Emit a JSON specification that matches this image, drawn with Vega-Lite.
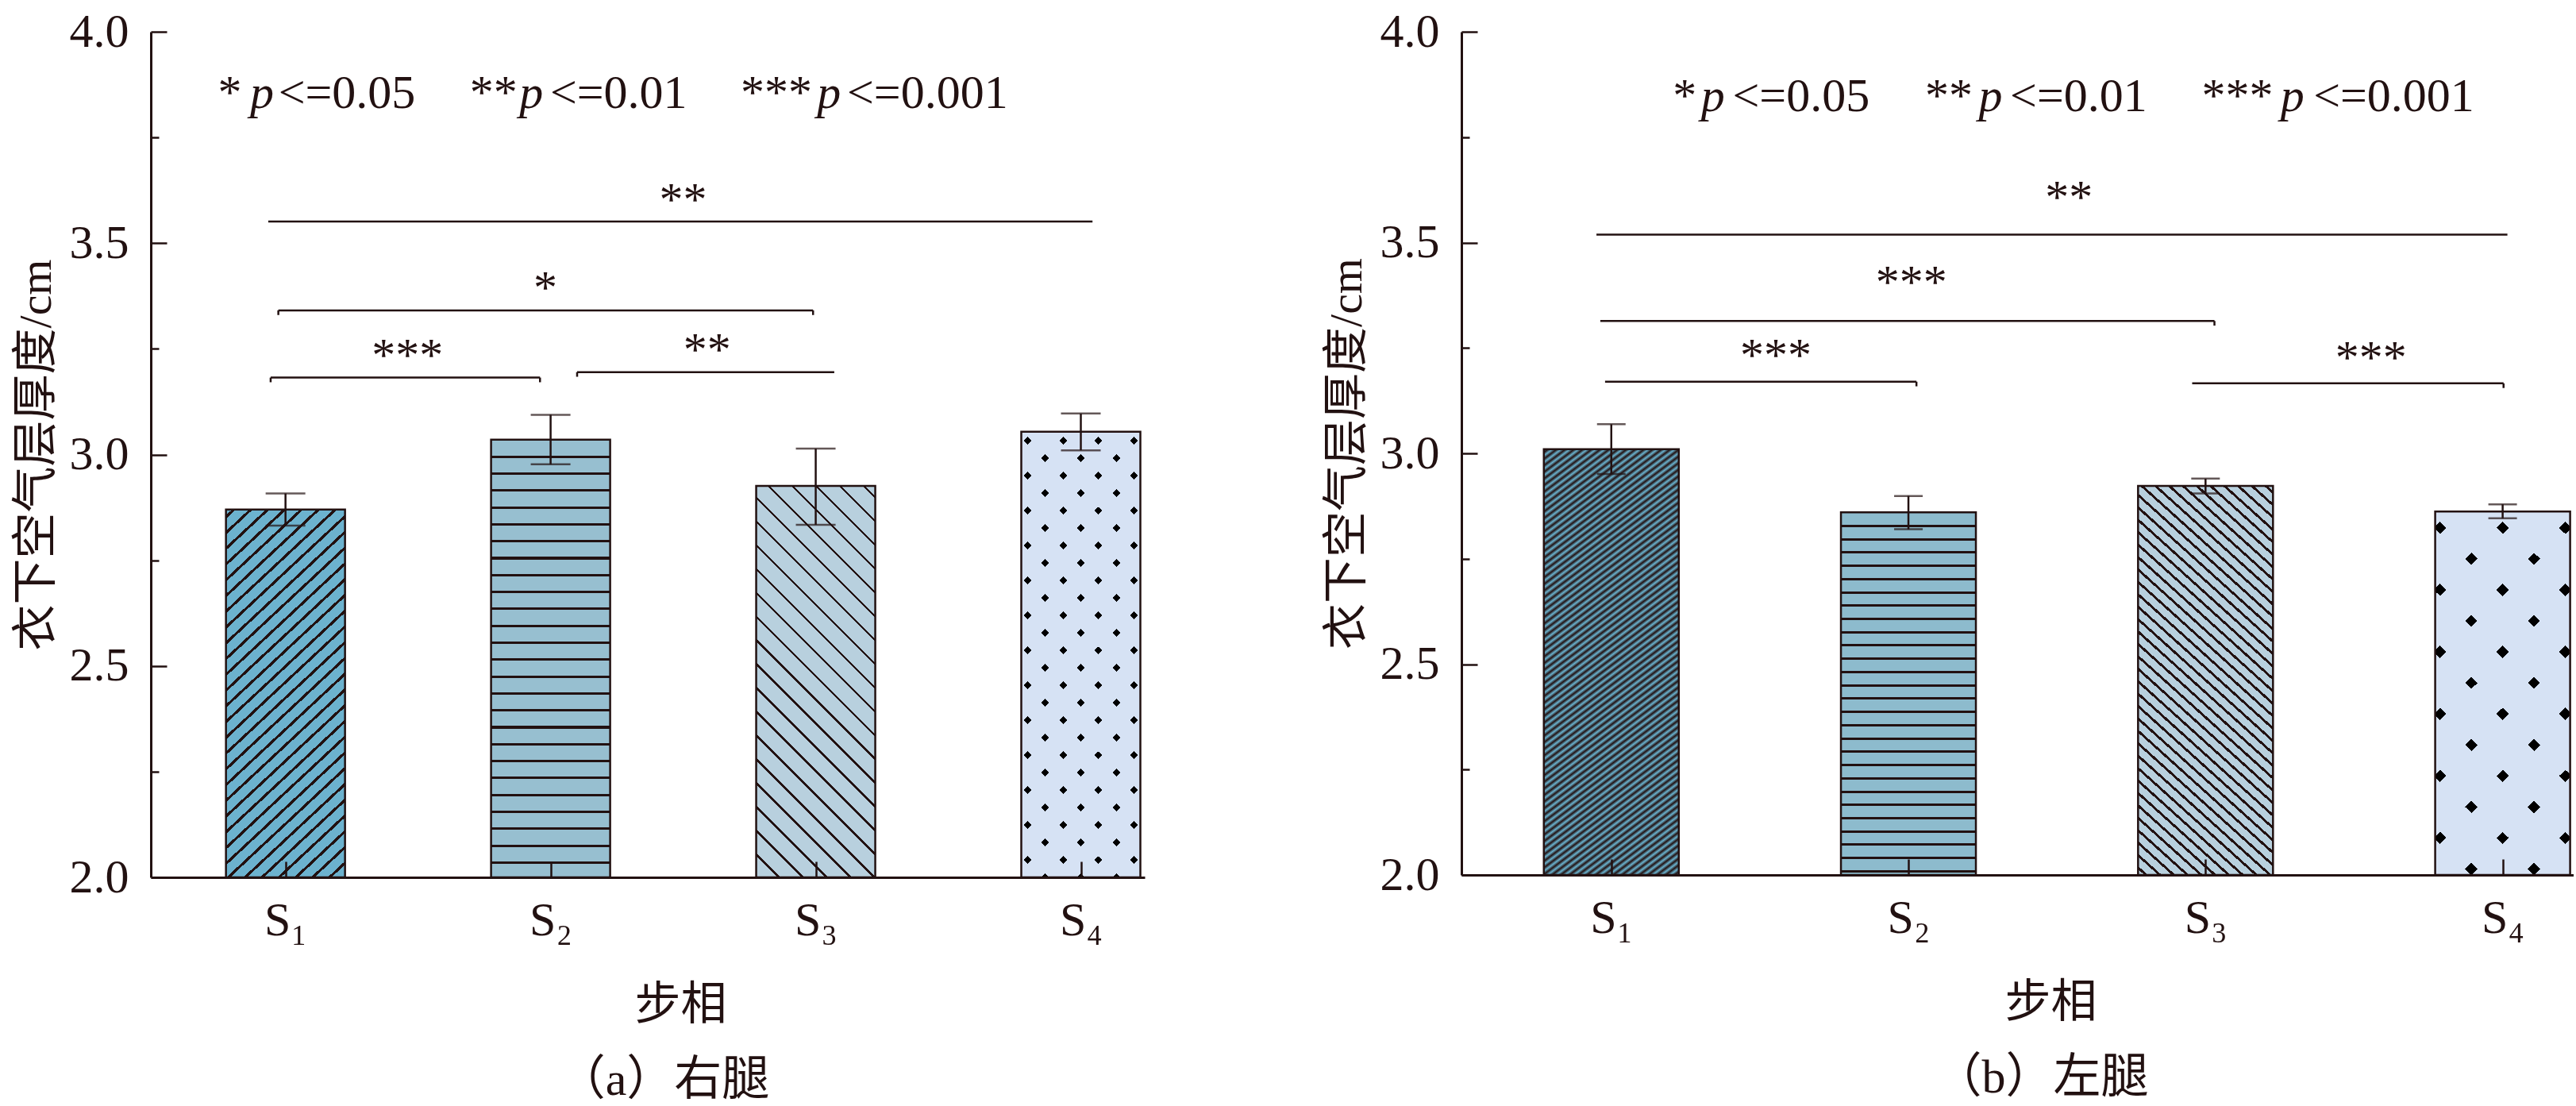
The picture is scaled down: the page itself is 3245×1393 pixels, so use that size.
{
  "$schema": "https://vega.github.io/schema/vega-lite/v6.json",
  "background": "white",
  "padding": {"left": 17, "top": 10, "right": 0, "bottom": 0},
  "spacing": 226,
  "datasets": {
    "bars_a": [
      {"phase": "S1", "pos": 1, "mean": 2.870, "lo": 2.832, "hi": 2.908},
      {"phase": "S2", "pos": 2, "mean": 3.035, "lo": 2.977, "hi": 3.094},
      {"phase": "S3", "pos": 3, "mean": 2.926, "lo": 2.834, "hi": 3.014},
      {"phase": "S4", "pos": 4, "mean": 3.054, "lo": 3.010, "hi": 3.097}
    ],
    "bars_b": [
      {"phase": "S1", "pos": 1, "mean": 3.010, "lo": 2.951, "hi": 3.069},
      {"phase": "S2", "pos": 2, "mean": 2.860, "lo": 2.820, "hi": 2.899},
      {"phase": "S3", "pos": 3, "mean": 2.923, "lo": 2.905, "hi": 2.940},
      {"phase": "S4", "pos": 4, "mean": 2.862, "lo": 2.846, "hi": 2.879}
    ],
    "brackets_a": [
      {"x": 0.935, "x2": 4.044, "y": 3.551},
      {"x": 0.973, "x2": 2.990, "y": 3.341},
      {"x": 0.944, "x2": 1.960, "y": 3.182},
      {"x": 2.100, "x2": 3.070, "y": 3.195}
    ],
    "ends_a": [
      {"x": 0.973, "y": 3.341, "y2": 3.330},
      {"x": 2.990, "y": 3.341, "y2": 3.330},
      {"x": 0.944, "y": 3.182, "y2": 3.171},
      {"x": 1.960, "y": 3.182, "y2": 3.171},
      {"x": 2.100, "y": 3.195, "y2": 3.184}
    ],
    "brackets_b": [
      {"x": 0.950, "x2": 4.016, "y": 3.519},
      {"x": 0.963, "x2": 3.030, "y": 3.314},
      {"x": 0.979, "x2": 2.027, "y": 3.170},
      {"x": 2.955, "x2": 4.003, "y": 3.166}
    ],
    "ends_b": [
      {"x": 3.030, "y": 3.314, "y2": 3.303},
      {"x": 2.027, "y": 3.170, "y2": 3.159},
      {"x": 4.003, "y": 3.166, "y2": 3.155}
    ],
    "stars_a": [
      {"x": 2.50, "y": 3.567, "label": "**"},
      {"x": 1.98, "y": 3.358, "label": "*"},
      {"x": 1.46, "y": 3.198, "label": "***"},
      {"x": 2.59, "y": 3.211, "label": "**"}
    ],
    "stars_b": [
      {"x": 2.54, "y": 3.571, "label": "**"},
      {"x": 2.01, "y": 3.369, "label": "***"},
      {"x": 1.554, "y": 3.196, "label": "***"},
      {"x": 3.557, "y": 3.191, "label": "***"}
    ],
    "key_a": [
      {"x": 0.745, "y": 3.820, "label": "*", "italic": false},
      {"x": 0.866, "y": 3.820, "label": "p", "italic": true},
      {"x": 0.973, "y": 3.820, "label": "<=0.05", "italic": false},
      {"x": 1.695, "y": 3.820, "label": "**", "italic": false},
      {"x": 1.882, "y": 3.820, "label": "p", "italic": true},
      {"x": 1.998, "y": 3.820, "label": "<=0.01", "italic": false},
      {"x": 2.717, "y": 3.820, "label": "***", "italic": false},
      {"x": 3.005, "y": 3.820, "label": "p", "italic": true},
      {"x": 3.118, "y": 3.820, "label": "<=0.001", "italic": false}
    ],
    "key_b": [
      {"x": 1.207, "y": 3.812, "label": "*", "italic": false},
      {"x": 1.302, "y": 3.812, "label": "p", "italic": true},
      {"x": 1.408, "y": 3.812, "label": "<=0.05", "italic": false},
      {"x": 2.056, "y": 3.812, "label": "**", "italic": false},
      {"x": 2.236, "y": 3.812, "label": "p", "italic": true},
      {"x": 2.342, "y": 3.812, "label": "<=0.01", "italic": false},
      {"x": 2.987, "y": 3.812, "label": "***", "italic": false},
      {"x": 3.252, "y": 3.812, "label": "p", "italic": true},
      {"x": 3.363, "y": 3.812, "label": "<=0.001", "italic": false}
    ]
  },
  "hconcat": [
    {
      "width": 1252,
      "height": 1065,
      "title": {"text": "（a）右腿", "orient": "bottom", "anchor": "middle", "dx": 20, "offset": 37},
      "data": {"name": "bars_a"},
      "layer": [
        {
          "transform": [{"filter": "datum.phase == 'S1'"}],
          "mark": {"type": "bar", "width": 150, "stroke": "#211", "strokeWidth": 2.5,
            "fill": {"gradient": "linear", "x1": 0, "y1": 0, "x2": 0.3603, "y2": 1.1932, "stops": [
              {"offset": 0, "color": "#6cb2ce"},
              {"offset": 0.012, "color": "#6cb2ce"}, {"offset": 0.012, "color": "#211"}, {"offset": 0.0195, "color": "#211"}, {"offset": 0.0195, "color": "#6cb2ce"},
              {"offset": 0.0449, "color": "#6cb2ce"}, {"offset": 0.0449, "color": "#211"}, {"offset": 0.0524, "color": "#211"}, {"offset": 0.0524, "color": "#6cb2ce"},
              {"offset": 0.0778, "color": "#6cb2ce"}, {"offset": 0.0778, "color": "#211"}, {"offset": 0.0853, "color": "#211"}, {"offset": 0.0853, "color": "#6cb2ce"},
              {"offset": 0.1107, "color": "#6cb2ce"}, {"offset": 0.1107, "color": "#211"}, {"offset": 0.1182, "color": "#211"}, {"offset": 0.1182, "color": "#6cb2ce"},
              {"offset": 0.1436, "color": "#6cb2ce"}, {"offset": 0.1436, "color": "#211"}, {"offset": 0.1511, "color": "#211"}, {"offset": 0.1511, "color": "#6cb2ce"},
              {"offset": 0.1765, "color": "#6cb2ce"}, {"offset": 0.1765, "color": "#211"}, {"offset": 0.184, "color": "#211"}, {"offset": 0.184, "color": "#6cb2ce"},
              {"offset": 0.2094, "color": "#6cb2ce"}, {"offset": 0.2094, "color": "#211"}, {"offset": 0.2169, "color": "#211"}, {"offset": 0.2169, "color": "#6cb2ce"},
              {"offset": 0.2423, "color": "#6cb2ce"}, {"offset": 0.2423, "color": "#211"}, {"offset": 0.2498, "color": "#211"}, {"offset": 0.2498, "color": "#6cb2ce"},
              {"offset": 0.2752, "color": "#6cb2ce"}, {"offset": 0.2752, "color": "#211"}, {"offset": 0.2827, "color": "#211"}, {"offset": 0.2827, "color": "#6cb2ce"},
              {"offset": 0.3081, "color": "#6cb2ce"}, {"offset": 0.3081, "color": "#211"}, {"offset": 0.3156, "color": "#211"}, {"offset": 0.3156, "color": "#6cb2ce"},
              {"offset": 0.341, "color": "#6cb2ce"}, {"offset": 0.341, "color": "#211"}, {"offset": 0.3485, "color": "#211"}, {"offset": 0.3485, "color": "#6cb2ce"},
              {"offset": 0.3739, "color": "#6cb2ce"}, {"offset": 0.3739, "color": "#211"}, {"offset": 0.3814, "color": "#211"}, {"offset": 0.3814, "color": "#6cb2ce"},
              {"offset": 0.4068, "color": "#6cb2ce"}, {"offset": 0.4068, "color": "#211"}, {"offset": 0.4143, "color": "#211"}, {"offset": 0.4143, "color": "#6cb2ce"},
              {"offset": 0.4397, "color": "#6cb2ce"}, {"offset": 0.4397, "color": "#211"}, {"offset": 0.4472, "color": "#211"}, {"offset": 0.4472, "color": "#6cb2ce"},
              {"offset": 0.4726, "color": "#6cb2ce"}, {"offset": 0.4726, "color": "#211"}, {"offset": 0.4801, "color": "#211"}, {"offset": 0.4801, "color": "#6cb2ce"},
              {"offset": 0.5055, "color": "#6cb2ce"}, {"offset": 0.5055, "color": "#211"}, {"offset": 0.513, "color": "#211"}, {"offset": 0.513, "color": "#6cb2ce"},
              {"offset": 0.5384, "color": "#6cb2ce"}, {"offset": 0.5384, "color": "#211"}, {"offset": 0.5459, "color": "#211"}, {"offset": 0.5459, "color": "#6cb2ce"},
              {"offset": 0.5713, "color": "#6cb2ce"}, {"offset": 0.5713, "color": "#211"}, {"offset": 0.5788, "color": "#211"}, {"offset": 0.5788, "color": "#6cb2ce"},
              {"offset": 0.6042, "color": "#6cb2ce"}, {"offset": 0.6042, "color": "#211"}, {"offset": 0.6117, "color": "#211"}, {"offset": 0.6117, "color": "#6cb2ce"},
              {"offset": 0.6371, "color": "#6cb2ce"}, {"offset": 0.6371, "color": "#211"}, {"offset": 0.6446, "color": "#211"}, {"offset": 0.6446, "color": "#6cb2ce"},
              {"offset": 0.67, "color": "#6cb2ce"}, {"offset": 0.67, "color": "#211"}, {"offset": 0.6775, "color": "#211"}, {"offset": 0.6775, "color": "#6cb2ce"},
              {"offset": 0.7029, "color": "#6cb2ce"}, {"offset": 0.7029, "color": "#211"}, {"offset": 0.7104, "color": "#211"}, {"offset": 0.7104, "color": "#6cb2ce"},
              {"offset": 0.7358, "color": "#6cb2ce"}, {"offset": 0.7358, "color": "#211"}, {"offset": 0.7433, "color": "#211"}, {"offset": 0.7433, "color": "#6cb2ce"},
              {"offset": 0.7687, "color": "#6cb2ce"}, {"offset": 0.7687, "color": "#211"}, {"offset": 0.7762, "color": "#211"}, {"offset": 0.7762, "color": "#6cb2ce"},
              {"offset": 0.8016, "color": "#6cb2ce"}, {"offset": 0.8016, "color": "#211"}, {"offset": 0.8091, "color": "#211"}, {"offset": 0.8091, "color": "#6cb2ce"},
              {"offset": 0.8345, "color": "#6cb2ce"}, {"offset": 0.8345, "color": "#211"}, {"offset": 0.842, "color": "#211"}, {"offset": 0.842, "color": "#6cb2ce"},
              {"offset": 0.8674, "color": "#6cb2ce"}, {"offset": 0.8674, "color": "#211"}, {"offset": 0.8749, "color": "#211"}, {"offset": 0.8749, "color": "#6cb2ce"},
              {"offset": 0.9003, "color": "#6cb2ce"}, {"offset": 0.9003, "color": "#211"}, {"offset": 0.9078, "color": "#211"}, {"offset": 0.9078, "color": "#6cb2ce"},
              {"offset": 0.9332, "color": "#6cb2ce"}, {"offset": 0.9332, "color": "#211"}, {"offset": 0.9407, "color": "#211"}, {"offset": 0.9407, "color": "#6cb2ce"},
              {"offset": 0.9661, "color": "#6cb2ce"}, {"offset": 0.9661, "color": "#211"}, {"offset": 0.9736, "color": "#211"}, {"offset": 0.9736, "color": "#6cb2ce"},
              {"offset": 1, "color": "#6cb2ce"}
            ]}},
          "encoding": {
            "x": {"field": "pos", "type": "quantitative", "title": "步相", "scale": {"domain": [0.507, 4.226], "nice": false, "zero": false},
              "axis": {"values": [1, 2, 3, 4], "labelExpr": "'S' + ['₁','₂','₃','₄'][datum.value - 1]", "tickSize": -20, "labelPadding": 45, "titlePadding": 48, "titleX": 667, "zindex": 1}},
            "y": {"field": "mean", "type": "quantitative", "title": "衣下空气层厚度/cm", "scale": {"domain": [2, 4], "nice": false, "zero": false},
              "axis": {"values": [2, 2.25, 2.5, 2.75, 3, 3.25, 3.5, 3.75, 4], "labelExpr": "datum.value * 4 % 2 == 0 ? format(datum.value, '.1f') : ''",
                "tickSize": {"condition": {"test": "datum.value * 4 % 2 == 0", "value": -20}, "value": -10}, "labelPadding": 48, "titlePadding": 12, "zindex": 1}},
            "y2": {"datum": 2}
          }
        },
        {
          "transform": [{"filter": "datum.phase == 'S2'"}],
          "mark": {"type": "bar", "width": 150, "stroke": "#211", "strokeWidth": 2.5,
            "fill": {"gradient": "linear", "x1": 0, "y1": 0, "x2": 0, "y2": 1, "stops": [
              {"offset": 0, "color": "#97bfd0"},
              {"offset": 0.0359, "color": "#97bfd0"}, {"offset": 0.0359, "color": "#211"}, {"offset": 0.0415, "color": "#211"}, {"offset": 0.0415, "color": "#97bfd0"},
              {"offset": 0.0746, "color": "#97bfd0"}, {"offset": 0.0746, "color": "#211"}, {"offset": 0.0802, "color": "#211"}, {"offset": 0.0802, "color": "#97bfd0"},
              {"offset": 0.1132, "color": "#97bfd0"}, {"offset": 0.1132, "color": "#211"}, {"offset": 0.1188, "color": "#211"}, {"offset": 0.1188, "color": "#97bfd0"},
              {"offset": 0.1519, "color": "#97bfd0"}, {"offset": 0.1519, "color": "#211"}, {"offset": 0.1575, "color": "#211"}, {"offset": 0.1575, "color": "#97bfd0"},
              {"offset": 0.1905, "color": "#97bfd0"}, {"offset": 0.1905, "color": "#211"}, {"offset": 0.1961, "color": "#211"}, {"offset": 0.1961, "color": "#97bfd0"},
              {"offset": 0.2292, "color": "#97bfd0"}, {"offset": 0.2292, "color": "#211"}, {"offset": 0.2348, "color": "#211"}, {"offset": 0.2348, "color": "#97bfd0"},
              {"offset": 0.2678, "color": "#97bfd0"}, {"offset": 0.2678, "color": "#211"}, {"offset": 0.2734, "color": "#211"}, {"offset": 0.2734, "color": "#97bfd0"},
              {"offset": 0.3065, "color": "#97bfd0"}, {"offset": 0.3065, "color": "#211"}, {"offset": 0.3121, "color": "#211"}, {"offset": 0.3121, "color": "#97bfd0"},
              {"offset": 0.3451, "color": "#97bfd0"}, {"offset": 0.3451, "color": "#211"}, {"offset": 0.3507, "color": "#211"}, {"offset": 0.3507, "color": "#97bfd0"},
              {"offset": 0.3838, "color": "#97bfd0"}, {"offset": 0.3838, "color": "#211"}, {"offset": 0.3894, "color": "#211"}, {"offset": 0.3894, "color": "#97bfd0"},
              {"offset": 0.4224, "color": "#97bfd0"}, {"offset": 0.4224, "color": "#211"}, {"offset": 0.428, "color": "#211"}, {"offset": 0.428, "color": "#97bfd0"},
              {"offset": 0.4611, "color": "#97bfd0"}, {"offset": 0.4611, "color": "#211"}, {"offset": 0.4667, "color": "#211"}, {"offset": 0.4667, "color": "#97bfd0"},
              {"offset": 0.4997, "color": "#97bfd0"}, {"offset": 0.4997, "color": "#211"}, {"offset": 0.5053, "color": "#211"}, {"offset": 0.5053, "color": "#97bfd0"},
              {"offset": 0.5384, "color": "#97bfd0"}, {"offset": 0.5384, "color": "#211"}, {"offset": 0.544, "color": "#211"}, {"offset": 0.544, "color": "#97bfd0"},
              {"offset": 0.577, "color": "#97bfd0"}, {"offset": 0.577, "color": "#211"}, {"offset": 0.5826, "color": "#211"}, {"offset": 0.5826, "color": "#97bfd0"},
              {"offset": 0.6157, "color": "#97bfd0"}, {"offset": 0.6157, "color": "#211"}, {"offset": 0.6213, "color": "#211"}, {"offset": 0.6213, "color": "#97bfd0"},
              {"offset": 0.6543, "color": "#97bfd0"}, {"offset": 0.6543, "color": "#211"}, {"offset": 0.6599, "color": "#211"}, {"offset": 0.6599, "color": "#97bfd0"},
              {"offset": 0.693, "color": "#97bfd0"}, {"offset": 0.693, "color": "#211"}, {"offset": 0.6986, "color": "#211"}, {"offset": 0.6986, "color": "#97bfd0"},
              {"offset": 0.7316, "color": "#97bfd0"}, {"offset": 0.7316, "color": "#211"}, {"offset": 0.7372, "color": "#211"}, {"offset": 0.7372, "color": "#97bfd0"},
              {"offset": 0.7703, "color": "#97bfd0"}, {"offset": 0.7703, "color": "#211"}, {"offset": 0.7759, "color": "#211"}, {"offset": 0.7759, "color": "#97bfd0"},
              {"offset": 0.8089, "color": "#97bfd0"}, {"offset": 0.8089, "color": "#211"}, {"offset": 0.8145, "color": "#211"}, {"offset": 0.8145, "color": "#97bfd0"},
              {"offset": 0.8476, "color": "#97bfd0"}, {"offset": 0.8476, "color": "#211"}, {"offset": 0.8532, "color": "#211"}, {"offset": 0.8532, "color": "#97bfd0"},
              {"offset": 0.8862, "color": "#97bfd0"}, {"offset": 0.8862, "color": "#211"}, {"offset": 0.8918, "color": "#211"}, {"offset": 0.8918, "color": "#97bfd0"},
              {"offset": 0.9249, "color": "#97bfd0"}, {"offset": 0.9249, "color": "#211"}, {"offset": 0.9305, "color": "#211"}, {"offset": 0.9305, "color": "#97bfd0"},
              {"offset": 0.9635, "color": "#97bfd0"}, {"offset": 0.9635, "color": "#211"}, {"offset": 0.9691, "color": "#211"}, {"offset": 0.9691, "color": "#97bfd0"},
              {"offset": 1, "color": "#97bfd0"}
            ]}},
          "encoding": {"x": {"field": "pos", "type": "quantitative", "title": "步相"}, "y": {"field": "mean", "type": "quantitative", "title": "衣下空气层厚度/cm"}, "y2": {"datum": 2}}
        },
        {
          "transform": [{"filter": "datum.phase == 'S3'"}],
          "mark": {"type": "bar", "width": 150, "stroke": "#211", "strokeWidth": 2.5,
            "fill": {"gradient": "linear", "x1": 1, "y1": 0, "x2": 0.6369, "y2": 1.1937, "stops": [
              {"offset": 0, "color": "#b8d0de"},
              {"offset": 0.02, "color": "#b8d0de"}, {"offset": 0.02, "color": "#211"}, {"offset": 0.0251, "color": "#211"}, {"offset": 0.0251, "color": "#b8d0de"},
              {"offset": 0.0666, "color": "#b8d0de"}, {"offset": 0.0666, "color": "#211"}, {"offset": 0.0717, "color": "#211"}, {"offset": 0.0717, "color": "#b8d0de"},
              {"offset": 0.1132, "color": "#b8d0de"}, {"offset": 0.1132, "color": "#211"}, {"offset": 0.1183, "color": "#211"}, {"offset": 0.1183, "color": "#b8d0de"},
              {"offset": 0.1599, "color": "#b8d0de"}, {"offset": 0.1599, "color": "#211"}, {"offset": 0.165, "color": "#211"}, {"offset": 0.165, "color": "#b8d0de"},
              {"offset": 0.2065, "color": "#b8d0de"}, {"offset": 0.2065, "color": "#211"}, {"offset": 0.2116, "color": "#211"}, {"offset": 0.2116, "color": "#b8d0de"},
              {"offset": 0.2531, "color": "#b8d0de"}, {"offset": 0.2531, "color": "#211"}, {"offset": 0.2582, "color": "#211"}, {"offset": 0.2582, "color": "#b8d0de"},
              {"offset": 0.2997, "color": "#b8d0de"}, {"offset": 0.2997, "color": "#211"}, {"offset": 0.3048, "color": "#211"}, {"offset": 0.3048, "color": "#b8d0de"},
              {"offset": 0.3463, "color": "#b8d0de"}, {"offset": 0.3463, "color": "#211"}, {"offset": 0.3514, "color": "#211"}, {"offset": 0.3514, "color": "#b8d0de"},
              {"offset": 0.393, "color": "#b8d0de"}, {"offset": 0.393, "color": "#211"}, {"offset": 0.3981, "color": "#211"}, {"offset": 0.3981, "color": "#b8d0de"},
              {"offset": 0.4396, "color": "#b8d0de"}, {"offset": 0.4396, "color": "#211"}, {"offset": 0.4447, "color": "#211"}, {"offset": 0.4447, "color": "#b8d0de"},
              {"offset": 0.4862, "color": "#b8d0de"}, {"offset": 0.4862, "color": "#211"}, {"offset": 0.4913, "color": "#211"}, {"offset": 0.4913, "color": "#b8d0de"},
              {"offset": 0.5328, "color": "#b8d0de"}, {"offset": 0.5328, "color": "#211"}, {"offset": 0.5379, "color": "#211"}, {"offset": 0.5379, "color": "#b8d0de"},
              {"offset": 0.5794, "color": "#b8d0de"}, {"offset": 0.5794, "color": "#211"}, {"offset": 0.5845, "color": "#211"}, {"offset": 0.5845, "color": "#b8d0de"},
              {"offset": 0.6261, "color": "#b8d0de"}, {"offset": 0.6261, "color": "#211"}, {"offset": 0.6312, "color": "#211"}, {"offset": 0.6312, "color": "#b8d0de"},
              {"offset": 0.6727, "color": "#b8d0de"}, {"offset": 0.6727, "color": "#211"}, {"offset": 0.6778, "color": "#211"}, {"offset": 0.6778, "color": "#b8d0de"},
              {"offset": 0.7193, "color": "#b8d0de"}, {"offset": 0.7193, "color": "#211"}, {"offset": 0.7244, "color": "#211"}, {"offset": 0.7244, "color": "#b8d0de"},
              {"offset": 0.7659, "color": "#b8d0de"}, {"offset": 0.7659, "color": "#211"}, {"offset": 0.771, "color": "#211"}, {"offset": 0.771, "color": "#b8d0de"},
              {"offset": 0.8125, "color": "#b8d0de"}, {"offset": 0.8125, "color": "#211"}, {"offset": 0.8176, "color": "#211"}, {"offset": 0.8176, "color": "#b8d0de"},
              {"offset": 0.8592, "color": "#b8d0de"}, {"offset": 0.8592, "color": "#211"}, {"offset": 0.8643, "color": "#211"}, {"offset": 0.8643, "color": "#b8d0de"},
              {"offset": 0.9058, "color": "#b8d0de"}, {"offset": 0.9058, "color": "#211"}, {"offset": 0.9109, "color": "#211"}, {"offset": 0.9109, "color": "#b8d0de"},
              {"offset": 0.9524, "color": "#b8d0de"}, {"offset": 0.9524, "color": "#211"}, {"offset": 0.9575, "color": "#211"}, {"offset": 0.9575, "color": "#b8d0de"},
              {"offset": 1, "color": "#b8d0de"}
            ]}},
          "encoding": {"x": {"field": "pos", "type": "quantitative", "title": "步相"}, "y": {"field": "mean", "type": "quantitative", "title": "衣下空气层厚度/cm"}, "y2": {"datum": 2}}
        },
        {
          "transform": [{"filter": "datum.phase == 'S4'"}],
          "mark": {"type": "bar", "width": 150, "fill": "#d6e2f4"},
          "encoding": {"x": {"field": "pos", "type": "quantitative", "title": "步相"}, "y": {"field": "mean", "type": "quantitative", "title": "衣下空气层厚度/cm"}, "y2": {"datum": 2}}
        },
        {
          "transform": [{"filter": "datum.phase == 'S4'"}],
          "mark": {"type": "bar", "width": 150,
            "fill": {"gradient": "linear", "x1": 0, "y1": 0, "x2": 0.3107, "y2": 1.1813, "stops": [
              {"offset": 0, "color": "rgba(0,0,0,0)"},
              {"offset": 0.02, "color": "rgba(0,0,0,0)"}, {"offset": 0.02, "color": "#000"}, {"offset": 0.0339, "color": "#000"}, {"offset": 0.0339, "color": "rgba(0,0,0,0)"},
              {"offset": 0.0821, "color": "rgba(0,0,0,0)"}, {"offset": 0.0821, "color": "#000"}, {"offset": 0.096, "color": "#000"}, {"offset": 0.096, "color": "rgba(0,0,0,0)"},
              {"offset": 0.1441, "color": "rgba(0,0,0,0)"}, {"offset": 0.1441, "color": "#000"}, {"offset": 0.158, "color": "#000"}, {"offset": 0.158, "color": "rgba(0,0,0,0)"},
              {"offset": 0.2062, "color": "rgba(0,0,0,0)"}, {"offset": 0.2062, "color": "#000"}, {"offset": 0.2201, "color": "#000"}, {"offset": 0.2201, "color": "rgba(0,0,0,0)"},
              {"offset": 0.2683, "color": "rgba(0,0,0,0)"}, {"offset": 0.2683, "color": "#000"}, {"offset": 0.2822, "color": "#000"}, {"offset": 0.2822, "color": "rgba(0,0,0,0)"},
              {"offset": 0.3303, "color": "rgba(0,0,0,0)"}, {"offset": 0.3303, "color": "#000"}, {"offset": 0.3442, "color": "#000"}, {"offset": 0.3442, "color": "rgba(0,0,0,0)"},
              {"offset": 0.3924, "color": "rgba(0,0,0,0)"}, {"offset": 0.3924, "color": "#000"}, {"offset": 0.4063, "color": "#000"}, {"offset": 0.4063, "color": "rgba(0,0,0,0)"},
              {"offset": 0.4545, "color": "rgba(0,0,0,0)"}, {"offset": 0.4545, "color": "#000"}, {"offset": 0.4684, "color": "#000"}, {"offset": 0.4684, "color": "rgba(0,0,0,0)"},
              {"offset": 0.5166, "color": "rgba(0,0,0,0)"}, {"offset": 0.5166, "color": "#000"}, {"offset": 0.5305, "color": "#000"}, {"offset": 0.5305, "color": "rgba(0,0,0,0)"},
              {"offset": 0.5786, "color": "rgba(0,0,0,0)"}, {"offset": 0.5786, "color": "#000"}, {"offset": 0.5925, "color": "#000"}, {"offset": 0.5925, "color": "rgba(0,0,0,0)"},
              {"offset": 0.6407, "color": "rgba(0,0,0,0)"}, {"offset": 0.6407, "color": "#000"}, {"offset": 0.6546, "color": "#000"}, {"offset": 0.6546, "color": "rgba(0,0,0,0)"},
              {"offset": 0.7028, "color": "rgba(0,0,0,0)"}, {"offset": 0.7028, "color": "#000"}, {"offset": 0.7167, "color": "#000"}, {"offset": 0.7167, "color": "rgba(0,0,0,0)"},
              {"offset": 0.7648, "color": "rgba(0,0,0,0)"}, {"offset": 0.7648, "color": "#000"}, {"offset": 0.7787, "color": "#000"}, {"offset": 0.7787, "color": "rgba(0,0,0,0)"},
              {"offset": 0.8269, "color": "rgba(0,0,0,0)"}, {"offset": 0.8269, "color": "#000"}, {"offset": 0.8408, "color": "#000"}, {"offset": 0.8408, "color": "rgba(0,0,0,0)"},
              {"offset": 0.889, "color": "rgba(0,0,0,0)"}, {"offset": 0.889, "color": "#000"}, {"offset": 0.9029, "color": "#000"}, {"offset": 0.9029, "color": "rgba(0,0,0,0)"},
              {"offset": 0.9511, "color": "rgba(0,0,0,0)"}, {"offset": 0.9511, "color": "#000"}, {"offset": 0.965, "color": "#000"}, {"offset": 0.965, "color": "rgba(0,0,0,0)"},
              {"offset": 1, "color": "rgba(0,0,0,0)"}
            ]}},
          "encoding": {"x": {"field": "pos", "type": "quantitative", "title": "步相"}, "y": {"field": "mean", "type": "quantitative", "title": "衣下空气层厚度/cm"}, "y2": {"datum": 2}}
        },
        {
          "transform": [{"filter": "datum.phase == 'S4'"}],
          "mark": {"type": "bar", "width": 150, "stroke": "#211", "strokeWidth": 2.5,
            "fill": {"gradient": "linear", "x1": 1, "y1": 0, "x2": 0.6893, "y2": 1.1813, "stops": [
              {"offset": 0, "color": "#d6e2f4"},
              {"offset": 0.02, "color": "#d6e2f4"}, {"offset": 0.02, "color": "rgba(0,0,0,0)"}, {"offset": 0.0339, "color": "rgba(0,0,0,0)"}, {"offset": 0.0339, "color": "#d6e2f4"},
              {"offset": 0.0821, "color": "#d6e2f4"}, {"offset": 0.0821, "color": "rgba(0,0,0,0)"}, {"offset": 0.096, "color": "rgba(0,0,0,0)"}, {"offset": 0.096, "color": "#d6e2f4"},
              {"offset": 0.1441, "color": "#d6e2f4"}, {"offset": 0.1441, "color": "rgba(0,0,0,0)"}, {"offset": 0.158, "color": "rgba(0,0,0,0)"}, {"offset": 0.158, "color": "#d6e2f4"},
              {"offset": 0.2062, "color": "#d6e2f4"}, {"offset": 0.2062, "color": "rgba(0,0,0,0)"}, {"offset": 0.2201, "color": "rgba(0,0,0,0)"}, {"offset": 0.2201, "color": "#d6e2f4"},
              {"offset": 0.2683, "color": "#d6e2f4"}, {"offset": 0.2683, "color": "rgba(0,0,0,0)"}, {"offset": 0.2822, "color": "rgba(0,0,0,0)"}, {"offset": 0.2822, "color": "#d6e2f4"},
              {"offset": 0.3303, "color": "#d6e2f4"}, {"offset": 0.3303, "color": "rgba(0,0,0,0)"}, {"offset": 0.3442, "color": "rgba(0,0,0,0)"}, {"offset": 0.3442, "color": "#d6e2f4"},
              {"offset": 0.3924, "color": "#d6e2f4"}, {"offset": 0.3924, "color": "rgba(0,0,0,0)"}, {"offset": 0.4063, "color": "rgba(0,0,0,0)"}, {"offset": 0.4063, "color": "#d6e2f4"},
              {"offset": 0.4545, "color": "#d6e2f4"}, {"offset": 0.4545, "color": "rgba(0,0,0,0)"}, {"offset": 0.4684, "color": "rgba(0,0,0,0)"}, {"offset": 0.4684, "color": "#d6e2f4"},
              {"offset": 0.5166, "color": "#d6e2f4"}, {"offset": 0.5166, "color": "rgba(0,0,0,0)"}, {"offset": 0.5305, "color": "rgba(0,0,0,0)"}, {"offset": 0.5305, "color": "#d6e2f4"},
              {"offset": 0.5786, "color": "#d6e2f4"}, {"offset": 0.5786, "color": "rgba(0,0,0,0)"}, {"offset": 0.5925, "color": "rgba(0,0,0,0)"}, {"offset": 0.5925, "color": "#d6e2f4"},
              {"offset": 0.6407, "color": "#d6e2f4"}, {"offset": 0.6407, "color": "rgba(0,0,0,0)"}, {"offset": 0.6546, "color": "rgba(0,0,0,0)"}, {"offset": 0.6546, "color": "#d6e2f4"},
              {"offset": 0.7028, "color": "#d6e2f4"}, {"offset": 0.7028, "color": "rgba(0,0,0,0)"}, {"offset": 0.7167, "color": "rgba(0,0,0,0)"}, {"offset": 0.7167, "color": "#d6e2f4"},
              {"offset": 0.7648, "color": "#d6e2f4"}, {"offset": 0.7648, "color": "rgba(0,0,0,0)"}, {"offset": 0.7787, "color": "rgba(0,0,0,0)"}, {"offset": 0.7787, "color": "#d6e2f4"},
              {"offset": 0.8269, "color": "#d6e2f4"}, {"offset": 0.8269, "color": "rgba(0,0,0,0)"}, {"offset": 0.8408, "color": "rgba(0,0,0,0)"}, {"offset": 0.8408, "color": "#d6e2f4"},
              {"offset": 0.889, "color": "#d6e2f4"}, {"offset": 0.889, "color": "rgba(0,0,0,0)"}, {"offset": 0.9029, "color": "rgba(0,0,0,0)"}, {"offset": 0.9029, "color": "#d6e2f4"},
              {"offset": 0.9511, "color": "#d6e2f4"}, {"offset": 0.9511, "color": "rgba(0,0,0,0)"}, {"offset": 0.965, "color": "rgba(0,0,0,0)"}, {"offset": 0.965, "color": "#d6e2f4"},
              {"offset": 1, "color": "#d6e2f4"}
            ]}},
          "encoding": {"x": {"field": "pos", "type": "quantitative", "title": "步相"}, "y": {"field": "mean", "type": "quantitative", "title": "衣下空气层厚度/cm"}, "y2": {"datum": 2}}
        },
        {
          "mark": {"type": "rule", "color": "#211", "strokeWidth": 2.5},
          "encoding": {"x": {"field": "pos", "type": "quantitative", "title": "步相"}, "y": {"field": "lo", "type": "quantitative", "title": "衣下空气层厚度/cm"}, "y2": {"field": "hi"}}
        },
        {
          "mark": {"type": "tick", "orient": "horizontal", "size": 50, "thickness": 2.5, "color": "#211"},
          "encoding": {"x": {"field": "pos", "type": "quantitative", "title": "步相"}, "y": {"field": "hi", "type": "quantitative", "title": "衣下空气层厚度/cm"}}
        },
        {
          "mark": {"type": "tick", "orient": "horizontal", "size": 50, "thickness": 2.5, "color": "#211"},
          "encoding": {"x": {"field": "pos", "type": "quantitative", "title": "步相"}, "y": {"field": "lo", "type": "quantitative", "title": "衣下空气层厚度/cm"}}
        },
        {
          "data": {"name": "brackets_a"},
          "mark": {"type": "rule", "color": "#211", "strokeWidth": 2.5},
          "encoding": {"x": {"field": "x", "type": "quantitative", "title": "步相"}, "x2": {"field": "x2"}, "y": {"field": "y", "type": "quantitative", "title": "衣下空气层厚度/cm"}}
        },
        {
          "data": {"name": "ends_a"},
          "mark": {"type": "rule", "color": "#211", "strokeWidth": 2.5},
          "encoding": {"x": {"field": "x", "type": "quantitative", "title": "步相"}, "y": {"field": "y", "type": "quantitative", "title": "衣下空气层厚度/cm"}, "y2": {"field": "y2"}}
        },
        {
          "data": {"name": "stars_a"},
          "mark": {"type": "text", "align": "center", "baseline": "alphabetic"},
          "encoding": {"x": {"field": "x", "type": "quantitative", "title": "步相"}, "y": {"field": "y", "type": "quantitative", "title": "衣下空气层厚度/cm"}, "text": {"field": "label"}}
        },
        {
          "data": {"name": "key_a"},
          "transform": [{"filter": "!datum.italic"}],
          "mark": {"type": "text", "align": "left", "baseline": "alphabetic"},
          "encoding": {"x": {"field": "x", "type": "quantitative", "title": "步相"}, "y": {"field": "y", "type": "quantitative", "title": "衣下空气层厚度/cm"}, "text": {"field": "label"}}
        },
        {
          "data": {"name": "key_a"},
          "transform": [{"filter": "datum.italic"}],
          "mark": {"type": "text", "align": "left", "baseline": "alphabetic", "fontStyle": "italic"},
          "encoding": {"x": {"field": "x", "type": "quantitative", "title": "步相"}, "y": {"field": "y", "type": "quantitative", "title": "衣下空气层厚度/cm"}, "text": {"field": "label"}}
        }
      ]
    },
    {
      "width": 1401,
      "height": 1062,
      "title": {"text": "（b）左腿", "orient": "bottom", "anchor": "middle", "dx": 30, "offset": 37},
      "data": {"name": "bars_b"},
      "layer": [
        {
          "transform": [{"filter": "datum.phase == 'S1'"}],
          "mark": {"type": "bar", "width": 170, "stroke": "#211", "strokeWidth": 2.5,
            "fill": {"gradient": "linear", "x1": 0, "y1": 0, "x2": 0.28, "y2": 1.172, "stops": [
              {"offset": 0, "color": "#6ab3cf"}, {"offset": 0.00625, "color": "#211"}, {"offset": 0.0125, "color": "#6ab3cf"}, {"offset": 0.01875, "color": "#211"}, {"offset": 0.025, "color": "#6ab3cf"}, {"offset": 0.03125, "color": "#211"}, {"offset": 0.0375, "color": "#6ab3cf"}, {"offset": 0.04375, "color": "#211"},
              {"offset": 0.05, "color": "#6ab3cf"}, {"offset": 0.05625, "color": "#211"}, {"offset": 0.0625, "color": "#6ab3cf"}, {"offset": 0.06875, "color": "#211"}, {"offset": 0.075, "color": "#6ab3cf"}, {"offset": 0.08125, "color": "#211"}, {"offset": 0.0875, "color": "#6ab3cf"}, {"offset": 0.09375, "color": "#211"},
              {"offset": 0.1, "color": "#6ab3cf"}, {"offset": 0.10625, "color": "#211"}, {"offset": 0.1125, "color": "#6ab3cf"}, {"offset": 0.11875, "color": "#211"}, {"offset": 0.125, "color": "#6ab3cf"}, {"offset": 0.13125, "color": "#211"}, {"offset": 0.1375, "color": "#6ab3cf"}, {"offset": 0.14375, "color": "#211"},
              {"offset": 0.15, "color": "#6ab3cf"}, {"offset": 0.15625, "color": "#211"}, {"offset": 0.1625, "color": "#6ab3cf"}, {"offset": 0.16875, "color": "#211"}, {"offset": 0.175, "color": "#6ab3cf"}, {"offset": 0.18125, "color": "#211"}, {"offset": 0.1875, "color": "#6ab3cf"}, {"offset": 0.19375, "color": "#211"},
              {"offset": 0.2, "color": "#6ab3cf"}, {"offset": 0.20625, "color": "#211"}, {"offset": 0.2125, "color": "#6ab3cf"}, {"offset": 0.21875, "color": "#211"}, {"offset": 0.225, "color": "#6ab3cf"}, {"offset": 0.23125, "color": "#211"}, {"offset": 0.2375, "color": "#6ab3cf"}, {"offset": 0.24375, "color": "#211"},
              {"offset": 0.25, "color": "#6ab3cf"}, {"offset": 0.25625, "color": "#211"}, {"offset": 0.2625, "color": "#6ab3cf"}, {"offset": 0.26875, "color": "#211"}, {"offset": 0.275, "color": "#6ab3cf"}, {"offset": 0.28125, "color": "#211"}, {"offset": 0.2875, "color": "#6ab3cf"}, {"offset": 0.29375, "color": "#211"},
              {"offset": 0.3, "color": "#6ab3cf"}, {"offset": 0.30625, "color": "#211"}, {"offset": 0.3125, "color": "#6ab3cf"}, {"offset": 0.31875, "color": "#211"}, {"offset": 0.325, "color": "#6ab3cf"}, {"offset": 0.33125, "color": "#211"}, {"offset": 0.3375, "color": "#6ab3cf"}, {"offset": 0.34375, "color": "#211"},
              {"offset": 0.35, "color": "#6ab3cf"}, {"offset": 0.35625, "color": "#211"}, {"offset": 0.3625, "color": "#6ab3cf"}, {"offset": 0.36875, "color": "#211"}, {"offset": 0.375, "color": "#6ab3cf"}, {"offset": 0.38125, "color": "#211"}, {"offset": 0.3875, "color": "#6ab3cf"}, {"offset": 0.39375, "color": "#211"},
              {"offset": 0.4, "color": "#6ab3cf"}, {"offset": 0.40625, "color": "#211"}, {"offset": 0.4125, "color": "#6ab3cf"}, {"offset": 0.41875, "color": "#211"}, {"offset": 0.425, "color": "#6ab3cf"}, {"offset": 0.43125, "color": "#211"}, {"offset": 0.4375, "color": "#6ab3cf"}, {"offset": 0.44375, "color": "#211"},
              {"offset": 0.45, "color": "#6ab3cf"}, {"offset": 0.45625, "color": "#211"}, {"offset": 0.4625, "color": "#6ab3cf"}, {"offset": 0.46875, "color": "#211"}, {"offset": 0.475, "color": "#6ab3cf"}, {"offset": 0.48125, "color": "#211"}, {"offset": 0.4875, "color": "#6ab3cf"}, {"offset": 0.49375, "color": "#211"},
              {"offset": 0.5, "color": "#6ab3cf"}, {"offset": 0.50625, "color": "#211"}, {"offset": 0.5125, "color": "#6ab3cf"}, {"offset": 0.51875, "color": "#211"}, {"offset": 0.525, "color": "#6ab3cf"}, {"offset": 0.53125, "color": "#211"}, {"offset": 0.5375, "color": "#6ab3cf"}, {"offset": 0.54375, "color": "#211"},
              {"offset": 0.55, "color": "#6ab3cf"}, {"offset": 0.55625, "color": "#211"}, {"offset": 0.5625, "color": "#6ab3cf"}, {"offset": 0.56875, "color": "#211"}, {"offset": 0.575, "color": "#6ab3cf"}, {"offset": 0.58125, "color": "#211"}, {"offset": 0.5875, "color": "#6ab3cf"}, {"offset": 0.59375, "color": "#211"},
              {"offset": 0.6, "color": "#6ab3cf"}, {"offset": 0.60625, "color": "#211"}, {"offset": 0.6125, "color": "#6ab3cf"}, {"offset": 0.61875, "color": "#211"}, {"offset": 0.625, "color": "#6ab3cf"}, {"offset": 0.63125, "color": "#211"}, {"offset": 0.6375, "color": "#6ab3cf"}, {"offset": 0.64375, "color": "#211"},
              {"offset": 0.65, "color": "#6ab3cf"}, {"offset": 0.65625, "color": "#211"}, {"offset": 0.6625, "color": "#6ab3cf"}, {"offset": 0.66875, "color": "#211"}, {"offset": 0.675, "color": "#6ab3cf"}, {"offset": 0.68125, "color": "#211"}, {"offset": 0.6875, "color": "#6ab3cf"}, {"offset": 0.69375, "color": "#211"},
              {"offset": 0.7, "color": "#6ab3cf"}, {"offset": 0.70625, "color": "#211"}, {"offset": 0.7125, "color": "#6ab3cf"}, {"offset": 0.71875, "color": "#211"}, {"offset": 0.725, "color": "#6ab3cf"}, {"offset": 0.73125, "color": "#211"}, {"offset": 0.7375, "color": "#6ab3cf"}, {"offset": 0.74375, "color": "#211"},
              {"offset": 0.75, "color": "#6ab3cf"}, {"offset": 0.75625, "color": "#211"}, {"offset": 0.7625, "color": "#6ab3cf"}, {"offset": 0.76875, "color": "#211"}, {"offset": 0.775, "color": "#6ab3cf"}, {"offset": 0.78125, "color": "#211"}, {"offset": 0.7875, "color": "#6ab3cf"}, {"offset": 0.79375, "color": "#211"},
              {"offset": 0.8, "color": "#6ab3cf"}, {"offset": 0.80625, "color": "#211"}, {"offset": 0.8125, "color": "#6ab3cf"}, {"offset": 0.81875, "color": "#211"}, {"offset": 0.825, "color": "#6ab3cf"}, {"offset": 0.83125, "color": "#211"}, {"offset": 0.8375, "color": "#6ab3cf"}, {"offset": 0.84375, "color": "#211"},
              {"offset": 0.85, "color": "#6ab3cf"}, {"offset": 0.85625, "color": "#211"}, {"offset": 0.8625, "color": "#6ab3cf"}, {"offset": 0.86875, "color": "#211"}, {"offset": 0.875, "color": "#6ab3cf"}, {"offset": 0.88125, "color": "#211"}, {"offset": 0.8875, "color": "#6ab3cf"}, {"offset": 0.89375, "color": "#211"},
              {"offset": 0.9, "color": "#6ab3cf"}, {"offset": 0.90625, "color": "#211"}, {"offset": 0.9125, "color": "#6ab3cf"}, {"offset": 0.91875, "color": "#211"}, {"offset": 0.925, "color": "#6ab3cf"}, {"offset": 0.93125, "color": "#211"}, {"offset": 0.9375, "color": "#6ab3cf"}, {"offset": 0.94375, "color": "#211"},
              {"offset": 0.95, "color": "#6ab3cf"}, {"offset": 0.95625, "color": "#211"}, {"offset": 0.9625, "color": "#6ab3cf"}, {"offset": 0.96875, "color": "#211"}, {"offset": 0.975, "color": "#6ab3cf"}, {"offset": 0.98125, "color": "#211"}, {"offset": 0.9875, "color": "#6ab3cf"}, {"offset": 0.99375, "color": "#211"},
              {"offset": 1, "color": "#6ab3cf"}
            ]}},
          "encoding": {
            "x": {"field": "pos", "type": "quantitative", "title": "步相", "scale": {"domain": [0.509, 4.2255], "nice": false, "zero": false},
              "axis": {"values": [1, 2, 3, 4], "labelExpr": "'S' + ['₁','₂','₃','₄'][datum.value - 1]", "tickSize": -20, "labelPadding": 45, "titlePadding": 48, "titleX": 742, "zindex": 1}},
            "y": {"field": "mean", "type": "quantitative", "title": "衣下空气层厚度/cm", "scale": {"domain": [2, 4], "nice": false, "zero": false},
              "axis": {"values": [2, 2.25, 2.5, 2.75, 3, 3.25, 3.5, 3.75, 4], "labelExpr": "datum.value * 4 % 2 == 0 ? format(datum.value, '.1f') : ''",
                "tickSize": {"condition": {"test": "datum.value * 4 % 2 == 0", "value": -20}, "value": -10}, "labelPadding": 48, "titlePadding": 12, "zindex": 1}},
            "y2": {"datum": 2}
          }
        },
        {
          "transform": [{"filter": "datum.phase == 'S2'"}],
          "mark": {"type": "bar", "width": 170, "stroke": "#211", "strokeWidth": 2.5,
            "fill": {"gradient": "linear", "x1": 0, "y1": 0, "x2": 0, "y2": 1, "stops": [
              {"offset": 0, "color": "#8dbbcd"},
              {"offset": 0.034, "color": "#8dbbcd"}, {"offset": 0.034, "color": "#211"}, {"offset": 0.0406, "color": "#211"}, {"offset": 0.0406, "color": "#8dbbcd"},
              {"offset": 0.0706, "color": "#8dbbcd"}, {"offset": 0.0706, "color": "#211"}, {"offset": 0.0772, "color": "#211"}, {"offset": 0.0772, "color": "#8dbbcd"},
              {"offset": 0.1073, "color": "#8dbbcd"}, {"offset": 0.1073, "color": "#211"}, {"offset": 0.1139, "color": "#211"}, {"offset": 0.1139, "color": "#8dbbcd"},
              {"offset": 0.1439, "color": "#8dbbcd"}, {"offset": 0.1439, "color": "#211"}, {"offset": 0.1505, "color": "#211"}, {"offset": 0.1505, "color": "#8dbbcd"},
              {"offset": 0.1806, "color": "#8dbbcd"}, {"offset": 0.1806, "color": "#211"}, {"offset": 0.1872, "color": "#211"}, {"offset": 0.1872, "color": "#8dbbcd"},
              {"offset": 0.2172, "color": "#8dbbcd"}, {"offset": 0.2172, "color": "#211"}, {"offset": 0.2238, "color": "#211"}, {"offset": 0.2238, "color": "#8dbbcd"},
              {"offset": 0.2538, "color": "#8dbbcd"}, {"offset": 0.2538, "color": "#211"}, {"offset": 0.2604, "color": "#211"}, {"offset": 0.2604, "color": "#8dbbcd"},
              {"offset": 0.2905, "color": "#8dbbcd"}, {"offset": 0.2905, "color": "#211"}, {"offset": 0.2971, "color": "#211"}, {"offset": 0.2971, "color": "#8dbbcd"},
              {"offset": 0.3271, "color": "#8dbbcd"}, {"offset": 0.3271, "color": "#211"}, {"offset": 0.3337, "color": "#211"}, {"offset": 0.3337, "color": "#8dbbcd"},
              {"offset": 0.3638, "color": "#8dbbcd"}, {"offset": 0.3638, "color": "#211"}, {"offset": 0.3704, "color": "#211"}, {"offset": 0.3704, "color": "#8dbbcd"},
              {"offset": 0.4004, "color": "#8dbbcd"}, {"offset": 0.4004, "color": "#211"}, {"offset": 0.407, "color": "#211"}, {"offset": 0.407, "color": "#8dbbcd"},
              {"offset": 0.437, "color": "#8dbbcd"}, {"offset": 0.437, "color": "#211"}, {"offset": 0.4436, "color": "#211"}, {"offset": 0.4436, "color": "#8dbbcd"},
              {"offset": 0.4737, "color": "#8dbbcd"}, {"offset": 0.4737, "color": "#211"}, {"offset": 0.4803, "color": "#211"}, {"offset": 0.4803, "color": "#8dbbcd"},
              {"offset": 0.5103, "color": "#8dbbcd"}, {"offset": 0.5103, "color": "#211"}, {"offset": 0.5169, "color": "#211"}, {"offset": 0.5169, "color": "#8dbbcd"},
              {"offset": 0.547, "color": "#8dbbcd"}, {"offset": 0.547, "color": "#211"}, {"offset": 0.5536, "color": "#211"}, {"offset": 0.5536, "color": "#8dbbcd"},
              {"offset": 0.5836, "color": "#8dbbcd"}, {"offset": 0.5836, "color": "#211"}, {"offset": 0.5902, "color": "#211"}, {"offset": 0.5902, "color": "#8dbbcd"},
              {"offset": 0.6202, "color": "#8dbbcd"}, {"offset": 0.6202, "color": "#211"}, {"offset": 0.6268, "color": "#211"}, {"offset": 0.6268, "color": "#8dbbcd"},
              {"offset": 0.6569, "color": "#8dbbcd"}, {"offset": 0.6569, "color": "#211"}, {"offset": 0.6635, "color": "#211"}, {"offset": 0.6635, "color": "#8dbbcd"},
              {"offset": 0.6935, "color": "#8dbbcd"}, {"offset": 0.6935, "color": "#211"}, {"offset": 0.7001, "color": "#211"}, {"offset": 0.7001, "color": "#8dbbcd"},
              {"offset": 0.7302, "color": "#8dbbcd"}, {"offset": 0.7302, "color": "#211"}, {"offset": 0.7368, "color": "#211"}, {"offset": 0.7368, "color": "#8dbbcd"},
              {"offset": 0.7668, "color": "#8dbbcd"}, {"offset": 0.7668, "color": "#211"}, {"offset": 0.7734, "color": "#211"}, {"offset": 0.7734, "color": "#8dbbcd"},
              {"offset": 0.8034, "color": "#8dbbcd"}, {"offset": 0.8034, "color": "#211"}, {"offset": 0.81, "color": "#211"}, {"offset": 0.81, "color": "#8dbbcd"},
              {"offset": 0.8401, "color": "#8dbbcd"}, {"offset": 0.8401, "color": "#211"}, {"offset": 0.8467, "color": "#211"}, {"offset": 0.8467, "color": "#8dbbcd"},
              {"offset": 0.8767, "color": "#8dbbcd"}, {"offset": 0.8767, "color": "#211"}, {"offset": 0.8833, "color": "#211"}, {"offset": 0.8833, "color": "#8dbbcd"},
              {"offset": 0.9134, "color": "#8dbbcd"}, {"offset": 0.9134, "color": "#211"}, {"offset": 0.92, "color": "#211"}, {"offset": 0.92, "color": "#8dbbcd"},
              {"offset": 0.95, "color": "#8dbbcd"}, {"offset": 0.95, "color": "#211"}, {"offset": 0.9566, "color": "#211"}, {"offset": 0.9566, "color": "#8dbbcd"},
              {"offset": 0.9866, "color": "#8dbbcd"}, {"offset": 0.9866, "color": "#211"}, {"offset": 0.9932, "color": "#211"}, {"offset": 0.9932, "color": "#8dbbcd"},
              {"offset": 1, "color": "#8dbbcd"}
            ]}},
          "encoding": {"x": {"field": "pos", "type": "quantitative", "title": "步相"}, "y": {"field": "mean", "type": "quantitative", "title": "衣下空气层厚度/cm"}, "y2": {"datum": 2}}
        },
        {
          "transform": [{"filter": "datum.phase == 'S3'"}],
          "mark": {"type": "bar", "width": 170, "stroke": "#211", "strokeWidth": 2.5,
            "fill": {"gradient": "linear", "x1": 1, "y1": 0, "x2": 0.626, "y2": 1.1958, "stops": [
              {"offset": 0, "color": "#b8d0de"},
              {"offset": 0.01, "color": "#b8d0de"}, {"offset": 0.01, "color": "#211"}, {"offset": 0.0163, "color": "#211"}, {"offset": 0.0163, "color": "#b8d0de"},
              {"offset": 0.0343, "color": "#b8d0de"}, {"offset": 0.0343, "color": "#211"}, {"offset": 0.0406, "color": "#211"}, {"offset": 0.0406, "color": "#b8d0de"},
              {"offset": 0.0586, "color": "#b8d0de"}, {"offset": 0.0586, "color": "#211"}, {"offset": 0.0649, "color": "#211"}, {"offset": 0.0649, "color": "#b8d0de"},
              {"offset": 0.0829, "color": "#b8d0de"}, {"offset": 0.0829, "color": "#211"}, {"offset": 0.0892, "color": "#211"}, {"offset": 0.0892, "color": "#b8d0de"},
              {"offset": 0.1072, "color": "#b8d0de"}, {"offset": 0.1072, "color": "#211"}, {"offset": 0.1135, "color": "#211"}, {"offset": 0.1135, "color": "#b8d0de"},
              {"offset": 0.1316, "color": "#b8d0de"}, {"offset": 0.1316, "color": "#211"}, {"offset": 0.1379, "color": "#211"}, {"offset": 0.1379, "color": "#b8d0de"},
              {"offset": 0.1559, "color": "#b8d0de"}, {"offset": 0.1559, "color": "#211"}, {"offset": 0.1622, "color": "#211"}, {"offset": 0.1622, "color": "#b8d0de"},
              {"offset": 0.1802, "color": "#b8d0de"}, {"offset": 0.1802, "color": "#211"}, {"offset": 0.1865, "color": "#211"}, {"offset": 0.1865, "color": "#b8d0de"},
              {"offset": 0.2045, "color": "#b8d0de"}, {"offset": 0.2045, "color": "#211"}, {"offset": 0.2108, "color": "#211"}, {"offset": 0.2108, "color": "#b8d0de"},
              {"offset": 0.2288, "color": "#b8d0de"}, {"offset": 0.2288, "color": "#211"}, {"offset": 0.2351, "color": "#211"}, {"offset": 0.2351, "color": "#b8d0de"},
              {"offset": 0.2531, "color": "#b8d0de"}, {"offset": 0.2531, "color": "#211"}, {"offset": 0.2594, "color": "#211"}, {"offset": 0.2594, "color": "#b8d0de"},
              {"offset": 0.2774, "color": "#b8d0de"}, {"offset": 0.2774, "color": "#211"}, {"offset": 0.2837, "color": "#211"}, {"offset": 0.2837, "color": "#b8d0de"},
              {"offset": 0.3017, "color": "#b8d0de"}, {"offset": 0.3017, "color": "#211"}, {"offset": 0.308, "color": "#211"}, {"offset": 0.308, "color": "#b8d0de"},
              {"offset": 0.326, "color": "#b8d0de"}, {"offset": 0.326, "color": "#211"}, {"offset": 0.3323, "color": "#211"}, {"offset": 0.3323, "color": "#b8d0de"},
              {"offset": 0.3503, "color": "#b8d0de"}, {"offset": 0.3503, "color": "#211"}, {"offset": 0.3566, "color": "#211"}, {"offset": 0.3566, "color": "#b8d0de"},
              {"offset": 0.3747, "color": "#b8d0de"}, {"offset": 0.3747, "color": "#211"}, {"offset": 0.381, "color": "#211"}, {"offset": 0.381, "color": "#b8d0de"},
              {"offset": 0.399, "color": "#b8d0de"}, {"offset": 0.399, "color": "#211"}, {"offset": 0.4053, "color": "#211"}, {"offset": 0.4053, "color": "#b8d0de"},
              {"offset": 0.4233, "color": "#b8d0de"}, {"offset": 0.4233, "color": "#211"}, {"offset": 0.4296, "color": "#211"}, {"offset": 0.4296, "color": "#b8d0de"},
              {"offset": 0.4476, "color": "#b8d0de"}, {"offset": 0.4476, "color": "#211"}, {"offset": 0.4539, "color": "#211"}, {"offset": 0.4539, "color": "#b8d0de"},
              {"offset": 0.4719, "color": "#b8d0de"}, {"offset": 0.4719, "color": "#211"}, {"offset": 0.4782, "color": "#211"}, {"offset": 0.4782, "color": "#b8d0de"},
              {"offset": 0.4962, "color": "#b8d0de"}, {"offset": 0.4962, "color": "#211"}, {"offset": 0.5025, "color": "#211"}, {"offset": 0.5025, "color": "#b8d0de"},
              {"offset": 0.5205, "color": "#b8d0de"}, {"offset": 0.5205, "color": "#211"}, {"offset": 0.5268, "color": "#211"}, {"offset": 0.5268, "color": "#b8d0de"},
              {"offset": 0.5448, "color": "#b8d0de"}, {"offset": 0.5448, "color": "#211"}, {"offset": 0.5511, "color": "#211"}, {"offset": 0.5511, "color": "#b8d0de"},
              {"offset": 0.5691, "color": "#b8d0de"}, {"offset": 0.5691, "color": "#211"}, {"offset": 0.5754, "color": "#211"}, {"offset": 0.5754, "color": "#b8d0de"},
              {"offset": 0.5934, "color": "#b8d0de"}, {"offset": 0.5934, "color": "#211"}, {"offset": 0.5997, "color": "#211"}, {"offset": 0.5997, "color": "#b8d0de"},
              {"offset": 0.6178, "color": "#b8d0de"}, {"offset": 0.6178, "color": "#211"}, {"offset": 0.6241, "color": "#211"}, {"offset": 0.6241, "color": "#b8d0de"},
              {"offset": 0.6421, "color": "#b8d0de"}, {"offset": 0.6421, "color": "#211"}, {"offset": 0.6484, "color": "#211"}, {"offset": 0.6484, "color": "#b8d0de"},
              {"offset": 0.6664, "color": "#b8d0de"}, {"offset": 0.6664, "color": "#211"}, {"offset": 0.6727, "color": "#211"}, {"offset": 0.6727, "color": "#b8d0de"},
              {"offset": 0.6907, "color": "#b8d0de"}, {"offset": 0.6907, "color": "#211"}, {"offset": 0.697, "color": "#211"}, {"offset": 0.697, "color": "#b8d0de"},
              {"offset": 0.715, "color": "#b8d0de"}, {"offset": 0.715, "color": "#211"}, {"offset": 0.7213, "color": "#211"}, {"offset": 0.7213, "color": "#b8d0de"},
              {"offset": 0.7393, "color": "#b8d0de"}, {"offset": 0.7393, "color": "#211"}, {"offset": 0.7456, "color": "#211"}, {"offset": 0.7456, "color": "#b8d0de"},
              {"offset": 0.7636, "color": "#b8d0de"}, {"offset": 0.7636, "color": "#211"}, {"offset": 0.7699, "color": "#211"}, {"offset": 0.7699, "color": "#b8d0de"},
              {"offset": 0.7879, "color": "#b8d0de"}, {"offset": 0.7879, "color": "#211"}, {"offset": 0.7942, "color": "#211"}, {"offset": 0.7942, "color": "#b8d0de"},
              {"offset": 0.8122, "color": "#b8d0de"}, {"offset": 0.8122, "color": "#211"}, {"offset": 0.8185, "color": "#211"}, {"offset": 0.8185, "color": "#b8d0de"},
              {"offset": 0.8365, "color": "#b8d0de"}, {"offset": 0.8365, "color": "#211"}, {"offset": 0.8428, "color": "#211"}, {"offset": 0.8428, "color": "#b8d0de"},
              {"offset": 0.8609, "color": "#b8d0de"}, {"offset": 0.8609, "color": "#211"}, {"offset": 0.8672, "color": "#211"}, {"offset": 0.8672, "color": "#b8d0de"},
              {"offset": 0.8852, "color": "#b8d0de"}, {"offset": 0.8852, "color": "#211"}, {"offset": 0.8915, "color": "#211"}, {"offset": 0.8915, "color": "#b8d0de"},
              {"offset": 0.9095, "color": "#b8d0de"}, {"offset": 0.9095, "color": "#211"}, {"offset": 0.9158, "color": "#211"}, {"offset": 0.9158, "color": "#b8d0de"},
              {"offset": 0.9338, "color": "#b8d0de"}, {"offset": 0.9338, "color": "#211"}, {"offset": 0.9401, "color": "#211"}, {"offset": 0.9401, "color": "#b8d0de"},
              {"offset": 0.9581, "color": "#b8d0de"}, {"offset": 0.9581, "color": "#211"}, {"offset": 0.9644, "color": "#211"}, {"offset": 0.9644, "color": "#b8d0de"},
              {"offset": 0.9824, "color": "#b8d0de"}, {"offset": 0.9824, "color": "#211"}, {"offset": 0.9887, "color": "#211"}, {"offset": 0.9887, "color": "#b8d0de"},
              {"offset": 1, "color": "#b8d0de"}
            ]}},
          "encoding": {"x": {"field": "pos", "type": "quantitative", "title": "步相"}, "y": {"field": "mean", "type": "quantitative", "title": "衣下空气层厚度/cm"}, "y2": {"datum": 2}}
        },
        {
          "transform": [{"filter": "datum.phase == 'S4'"}],
          "mark": {"type": "bar", "width": 170, "fill": "#d6e2f4"},
          "encoding": {"x": {"field": "pos", "type": "quantitative", "title": "步相"}, "y": {"field": "mean", "type": "quantitative", "title": "衣下空气层厚度/cm"}, "y2": {"datum": 2}}
        },
        {
          "transform": [{"filter": "datum.phase == 'S4'"}],
          "mark": {"type": "bar", "width": 170,
            "fill": {"gradient": "linear", "x1": 0, "y1": 0, "x2": 0.4429, "y2": 1.2048, "stops": [
              {"offset": 0, "color": "rgba(0,0,0,0)"},
              {"offset": 0.03, "color": "rgba(0,0,0,0)"}, {"offset": 0.03, "color": "#000"}, {"offset": 0.0547, "color": "#000"}, {"offset": 0.0547, "color": "rgba(0,0,0,0)"},
              {"offset": 0.1548, "color": "rgba(0,0,0,0)"}, {"offset": 0.1548, "color": "#000"}, {"offset": 0.1795, "color": "#000"}, {"offset": 0.1795, "color": "rgba(0,0,0,0)"},
              {"offset": 0.2796, "color": "rgba(0,0,0,0)"}, {"offset": 0.2796, "color": "#000"}, {"offset": 0.3043, "color": "#000"}, {"offset": 0.3043, "color": "rgba(0,0,0,0)"},
              {"offset": 0.4044, "color": "rgba(0,0,0,0)"}, {"offset": 0.4044, "color": "#000"}, {"offset": 0.4291, "color": "#000"}, {"offset": 0.4291, "color": "rgba(0,0,0,0)"},
              {"offset": 0.5292, "color": "rgba(0,0,0,0)"}, {"offset": 0.5292, "color": "#000"}, {"offset": 0.5539, "color": "#000"}, {"offset": 0.5539, "color": "rgba(0,0,0,0)"},
              {"offset": 0.654, "color": "rgba(0,0,0,0)"}, {"offset": 0.654, "color": "#000"}, {"offset": 0.6787, "color": "#000"}, {"offset": 0.6787, "color": "rgba(0,0,0,0)"},
              {"offset": 0.7788, "color": "rgba(0,0,0,0)"}, {"offset": 0.7788, "color": "#000"}, {"offset": 0.8035, "color": "#000"}, {"offset": 0.8035, "color": "rgba(0,0,0,0)"},
              {"offset": 0.9036, "color": "rgba(0,0,0,0)"}, {"offset": 0.9036, "color": "#000"}, {"offset": 0.9283, "color": "#000"}, {"offset": 0.9283, "color": "rgba(0,0,0,0)"},
              {"offset": 1, "color": "rgba(0,0,0,0)"}
            ]}},
          "encoding": {"x": {"field": "pos", "type": "quantitative", "title": "步相"}, "y": {"field": "mean", "type": "quantitative", "title": "衣下空气层厚度/cm"}, "y2": {"datum": 2}}
        },
        {
          "transform": [{"filter": "datum.phase == 'S4'"}],
          "mark": {"type": "bar", "width": 170, "stroke": "#211", "strokeWidth": 2.5,
            "fill": {"gradient": "linear", "x1": 1, "y1": 0, "x2": 0.5571, "y2": 1.2048, "stops": [
              {"offset": 0, "color": "#d6e2f4"},
              {"offset": 0.03, "color": "#d6e2f4"}, {"offset": 0.03, "color": "rgba(0,0,0,0)"}, {"offset": 0.0547, "color": "rgba(0,0,0,0)"}, {"offset": 0.0547, "color": "#d6e2f4"},
              {"offset": 0.1548, "color": "#d6e2f4"}, {"offset": 0.1548, "color": "rgba(0,0,0,0)"}, {"offset": 0.1795, "color": "rgba(0,0,0,0)"}, {"offset": 0.1795, "color": "#d6e2f4"},
              {"offset": 0.2796, "color": "#d6e2f4"}, {"offset": 0.2796, "color": "rgba(0,0,0,0)"}, {"offset": 0.3043, "color": "rgba(0,0,0,0)"}, {"offset": 0.3043, "color": "#d6e2f4"},
              {"offset": 0.4044, "color": "#d6e2f4"}, {"offset": 0.4044, "color": "rgba(0,0,0,0)"}, {"offset": 0.4291, "color": "rgba(0,0,0,0)"}, {"offset": 0.4291, "color": "#d6e2f4"},
              {"offset": 0.5292, "color": "#d6e2f4"}, {"offset": 0.5292, "color": "rgba(0,0,0,0)"}, {"offset": 0.5539, "color": "rgba(0,0,0,0)"}, {"offset": 0.5539, "color": "#d6e2f4"},
              {"offset": 0.654, "color": "#d6e2f4"}, {"offset": 0.654, "color": "rgba(0,0,0,0)"}, {"offset": 0.6787, "color": "rgba(0,0,0,0)"}, {"offset": 0.6787, "color": "#d6e2f4"},
              {"offset": 0.7788, "color": "#d6e2f4"}, {"offset": 0.7788, "color": "rgba(0,0,0,0)"}, {"offset": 0.8035, "color": "rgba(0,0,0,0)"}, {"offset": 0.8035, "color": "#d6e2f4"},
              {"offset": 0.9036, "color": "#d6e2f4"}, {"offset": 0.9036, "color": "rgba(0,0,0,0)"}, {"offset": 0.9283, "color": "rgba(0,0,0,0)"}, {"offset": 0.9283, "color": "#d6e2f4"},
              {"offset": 1, "color": "#d6e2f4"}
            ]}},
          "encoding": {"x": {"field": "pos", "type": "quantitative", "title": "步相"}, "y": {"field": "mean", "type": "quantitative", "title": "衣下空气层厚度/cm"}, "y2": {"datum": 2}}
        },
        {
          "mark": {"type": "rule", "color": "#211", "strokeWidth": 2.5},
          "encoding": {"x": {"field": "pos", "type": "quantitative", "title": "步相"}, "y": {"field": "lo", "type": "quantitative", "title": "衣下空气层厚度/cm"}, "y2": {"field": "hi"}}
        },
        {
          "mark": {"type": "tick", "orient": "horizontal", "size": 36, "thickness": 2.5, "color": "#211"},
          "encoding": {"x": {"field": "pos", "type": "quantitative", "title": "步相"}, "y": {"field": "hi", "type": "quantitative", "title": "衣下空气层厚度/cm"}}
        },
        {
          "mark": {"type": "tick", "orient": "horizontal", "size": 36, "thickness": 2.5, "color": "#211"},
          "encoding": {"x": {"field": "pos", "type": "quantitative", "title": "步相"}, "y": {"field": "lo", "type": "quantitative", "title": "衣下空气层厚度/cm"}}
        },
        {
          "data": {"name": "brackets_b"},
          "mark": {"type": "rule", "color": "#211", "strokeWidth": 2.5},
          "encoding": {"x": {"field": "x", "type": "quantitative", "title": "步相"}, "x2": {"field": "x2"}, "y": {"field": "y", "type": "quantitative", "title": "衣下空气层厚度/cm"}}
        },
        {
          "data": {"name": "ends_b"},
          "mark": {"type": "rule", "color": "#211", "strokeWidth": 2.5},
          "encoding": {"x": {"field": "x", "type": "quantitative", "title": "步相"}, "y": {"field": "y", "type": "quantitative", "title": "衣下空气层厚度/cm"}, "y2": {"field": "y2"}}
        },
        {
          "data": {"name": "stars_b"},
          "mark": {"type": "text", "align": "center", "baseline": "alphabetic"},
          "encoding": {"x": {"field": "x", "type": "quantitative", "title": "步相"}, "y": {"field": "y", "type": "quantitative", "title": "衣下空气层厚度/cm"}, "text": {"field": "label"}}
        },
        {
          "data": {"name": "key_b"},
          "transform": [{"filter": "!datum.italic"}],
          "mark": {"type": "text", "align": "left", "baseline": "alphabetic"},
          "encoding": {"x": {"field": "x", "type": "quantitative", "title": "步相"}, "y": {"field": "y", "type": "quantitative", "title": "衣下空气层厚度/cm"}, "text": {"field": "label"}}
        },
        {
          "data": {"name": "key_b"},
          "transform": [{"filter": "datum.italic"}],
          "mark": {"type": "text", "align": "left", "baseline": "alphabetic", "fontStyle": "italic"},
          "encoding": {"x": {"field": "x", "type": "quantitative", "title": "步相"}, "y": {"field": "y", "type": "quantitative", "title": "衣下空气层厚度/cm"}, "text": {"field": "label"}}
        }
      ]
    }
  ],
  "config": {
    "view": {"stroke": null},
    "font": "Liberation Serif",
    "axis": {
      "grid": false, "domainColor": "#211", "domainWidth": 3, "tickColor": "#211", "tickWidth": 2.5,
      "labelColor": "#211", "labelFont": "Liberation Serif", "labelFontSize": 60, "labelOverlap": false, "labelFlush": false,
      "titleColor": "#211", "titleFont": "Liberation Serif, Noto Sans CJK SC", "titleFontSize": 58, "titleFontWeight": "normal"
    },
    "text": {"font": "Liberation Serif", "fontSize": 60, "color": "#211"},
    "title": {"font": "Liberation Serif, Noto Sans CJK SC", "fontSize": 60, "fontWeight": "normal", "color": "#211"}
  }
}
